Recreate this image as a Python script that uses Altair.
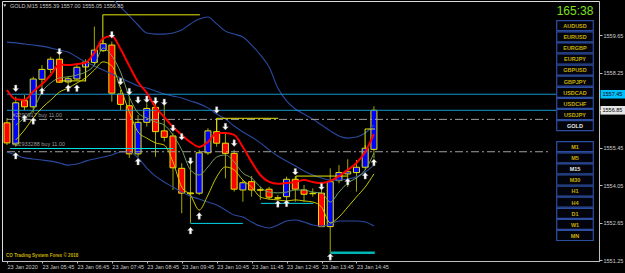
import json
import altair as alt
import pandas as pd

# ---------------- data ----------------
# M15 candles, bar 0 = 23 Jan 04:45 ... bar 42 = 15:15
opens = [1556.38, 1555.59, 1557.21, 1556.98, 1558.01, 1558.38, 1558.76, 1557.91, 1558.02, 1558.47,
         1558.64, 1559.08, 1559.29, 1557.46, 1557.02, 1555.22, 1556.40, 1556.96, 1556.08, 1555.89,
         1554.68, 1553.76, 1553.75, 1555.26, 1556.05, 1555.62, 1555.24, 1553.87, 1554.18, 1553.88,
         1553.90, 1553.58, 1553.62, 1554.27, 1553.87, 1553.75, 1553.75, 1552.50, 1554.22, 1554.47,
         1554.52, 1554.72, 1555.39]
highs = [1556.56, 1557.36, 1557.42, 1558.11, 1558.54, 1558.85, 1558.92, 1558.13, 1558.54, 1558.76,
         1559.98, 1559.55, 1559.42, 1557.61, 1557.36, 1556.67, 1557.11, 1557.17, 1557.05, 1555.99,
         1554.87, 1554.88, 1555.37, 1556.18, 1556.55, 1555.99, 1555.37, 1554.24, 1554.39, 1553.99,
         1553.99, 1553.68, 1554.37, 1554.39, 1554.06, 1553.93, 1554.12, 1554.68, 1554.80, 1555.02,
         1554.99, 1555.55, 1557.00]
lows = [1555.55, 1555.49, 1556.86, 1556.76, 1557.68, 1558.24, 1557.87, 1557.80, 1557.98, 1557.92,
        1558.54, 1559.03, 1557.17, 1556.86, 1555.07, 1555.11, 1556.24, 1555.11, 1555.68, 1553.87,
        1553.00, 1552.64, 1553.68, 1555.18, 1555.49, 1554.31, 1553.81, 1553.43, 1553.62, 1553.50,
        1553.50, 1553.50, 1553.50, 1553.43, 1553.43, 1553.62, 1552.48, 1551.52, 1554.12, 1553.99,
        1553.81, 1554.62, 1555.05]
closes = [1555.63, 1557.13, 1556.98, 1558.02, 1558.38, 1558.76, 1557.90, 1558.03, 1558.46, 1558.66,
          1559.10, 1559.34, 1557.49, 1557.07, 1555.22, 1556.40, 1556.92, 1556.05, 1555.84, 1554.70,
          1553.75, 1553.73, 1555.26, 1556.08, 1555.62, 1555.24, 1553.90, 1554.14, 1553.87, 1553.86,
          1553.60, 1553.56, 1554.27, 1553.90, 1553.71, 1553.73, 1552.50, 1554.18, 1554.52, 1554.55,
          1554.72, 1555.43, 1556.85]

red_ma = [1557.61, 1557.26, 1557.24, 1557.55, 1557.83, 1558.17, 1558.57, 1558.54, 1558.58, 1558.63,
          1559.00, 1559.54, 1559.63, 1559.14, 1558.51, 1557.91, 1557.50, 1556.97, 1556.60, 1556.23,
          1555.93, 1555.66, 1555.48, 1555.66, 1556.00, 1556.00, 1555.93, 1555.48, 1554.92, 1554.43,
          1554.17, 1554.10, 1554.13, 1554.17, 1554.24, 1554.17, 1554.13, 1554.21, 1554.39, 1554.62,
          1554.88, 1555.29, 1555.96]
green_ma = [1556.30, 1556.56, 1556.86, 1557.53, 1557.87, 1558.06, 1558.10, 1558.17, 1558.28, 1558.54,
            1559.18, 1558.88, 1558.28, 1557.35, 1556.75, 1556.56, 1556.41, 1556.30, 1555.93, 1555.37,
            1554.62, 1554.43, 1554.73, 1555.10, 1555.18, 1554.92, 1554.50, 1554.32, 1553.98, 1553.79,
            1553.76, 1553.79, 1553.87, 1553.87, 1553.79, 1553.76, 1553.42, 1553.79, 1554.13, 1554.32,
            1554.62, 1555.25]
yellow_ma = [1555.74, 1556.11, 1556.56, 1556.94, 1557.23, 1557.53, 1557.68, 1557.87, 1558.06, 1558.36,
             1558.66, 1558.51, 1557.68, 1556.79, 1556.04, 1555.81, 1555.63, 1555.55, 1554.92, 1553.98,
             1553.68, 1553.12, 1553.68, 1554.36, 1554.73, 1554.62, 1554.24, 1553.98, 1553.61, 1553.53,
             1553.50, 1553.46, 1553.50, 1553.46, 1553.42, 1553.23, 1552.64, 1552.86, 1553.23, 1553.61,
             1553.98, 1554.47]
upper_band = [1561.05, 1560.71, 1560.38, 1560.04, 1559.74, 1559.70, 1559.70, 1559.74, 1559.85, 1560.08,
              1560.26, 1560.34, 1560.08, 1559.81, 1559.70, 1559.59, 1559.29, 1558.92, 1558.47, 1557.68,
              1557.20, 1556.90, 1556.71, 1556.52, 1556.30, 1556.08, 1555.89, 1555.81, 1555.85, 1556.00,
              1556.30]
middle_band = [1559.40, 1559.37, 1559.33, 1559.29, 1559.25, 1559.18, 1559.10, 1559.03, 1558.84, 1558.66,
               1558.51, 1558.36, 1558.21, 1558.06, 1557.91, 1557.76, 1557.68, 1557.57, 1557.46, 1557.38,
               1557.31, 1557.20, 1557.09, 1556.94, 1556.71, 1556.52, 1556.26, 1556.04, 1555.85, 1555.63,
               1555.37, 1555.14, 1554.95, 1554.77, 1554.58, 1554.43, 1554.32, 1554.24, 1554.24, 1554.28,
               1554.36, 1554.54, 1554.80]
lower_band = [1555.29, 1555.18, 1555.07, 1555.03, 1554.99, 1554.95, 1554.88, 1554.80, 1554.84, 1554.95,
              1555.03, 1555.10, 1555.18, 1555.29, 1555.29, 1555.07, 1554.69, 1554.39, 1554.17, 1553.98,
              1553.79, 1553.64, 1553.53, 1553.42, 1553.31, 1553.12, 1552.93, 1552.86, 1552.67, 1552.52,
              1552.45, 1552.56, 1552.71, 1552.75, 1552.67, 1552.56, 1552.52, 1552.60, 1552.71, 1552.71,
              1552.71, 1552.67, 1552.52]
green_start, yellow_start, upper_start = 1, 1, 12

hline_levels = [1557.45, 1556.85]
order_levels = [1556.51, 1555.30]
order_labels = ["#2290917 buy 11.00", "#22933288 buy 11.00"]
order_label_levels = [1556.56, 1555.47]
buy_line = [(0.36, 19.04, 1555.42)]
yellow_steps = [
    [(5.99, 1557.95), (8.99, 1557.95), (8.99, 1558.67)],
    [(10.97, 1559.37), (10.97, 1560.42), (22.08, 1560.42)],
    [(24.0, 1556.05), (24.0, 1556.55), (31.05, 1556.55)],
    [(33.08, 1554.27), (33.08, 1554.39), (39.0, 1554.39)],
    [(40.99, 1555.43), (40.99, 1556.15), (42.12, 1556.15)],
]
cyan_segments = [(21.0, 27.0, 1552.62), (29.06, 35.06, 1553.37)]
teal_segments = [(37.05, 42.1, 1551.52)]

down_arrows = [(1, 1557.67), (6, 1559.04), (12, 1559.67), (13, 1557.92), (14, 1557.55), (15, 1557.23),
               (16, 1557.26), (17, 1557.20), (18, 1557.15), (19, 1556.18), (20, 1555.86), (21, 1554.95),
               (24, 1556.86), (25, 1556.24), (26, 1555.62), (33, 1554.55), (36, 1553.99)]
up_arrows = [(1, 1555.15), (2, 1556.55), (3, 1556.45), (4, 1557.57), (7, 1557.68), (8, 1557.68),
             (15, 1554.93), (21, 1552.35), (22, 1552.90), (31, 1553.35), (32, 1553.37), (37, 1551.37),
             (39, 1554.18), (41, 1554.40), (42, 1554.90)]

x_labels = ["23 Jan 2020", "23 Jan 05:45", "23 Jan 06:45", "23 Jan 07:45", "23 Jan 08:45",
            "23 Jan 09:45", "23 Jan 10:45", "23 Jan 11:45", "23 Jan 12:45", "23 Jan 13:45",
            "23 Jan 14:45"]
price_ticks = [1551.25, 1551.95, 1552.65, 1553.35, 1554.05, 1554.75, 1555.45, 1556.15, 1556.85,
               1557.55, 1558.25, 1558.95, 1559.65, 1560.35]

symbols = ["AUDUSD", "EURUSD", "EURGBP", "EURJPY", "GBPUSD", "GBPJPY", "USDCAD", "USDCHF", "USDJPY", "GOLD"]
timeframes = ["M1", "M5", "M15", "M30", "H1", "H4", "D1", "W1", "MN"]
active_buttons = ["GOLD", "M15"]

title_text = "GOLD,M15  1555.39 1557.00 1555.05 1556.85"
clock_text = "165:38"
footer_text = "CO Trading System Forex \u00a9 2018"
price_boxes = [(1557.45, "#00c0ff"), (1556.85, "#e6e6e6")]

# ---------------- chart ----------------
W, H = 597, 260
FONT = "Liberation Sans"
xs = alt.Scale(domain=[0, 67.19], nice=False, zero=False)
ys = alt.Scale(domain=[1551.214, 1560.937], nice=False, zero=False)

label_expr = json.dumps(x_labels) + "[round(datum.value / 4)]"
x_axis = alt.Axis(values=list(range(0, 41, 4)), labelExpr=label_expr, labelAlign="left",
                  labelBaseline="top", labelPadding=1, tickSize=2, labelFontSize=5.5,
                  labelColor="#c8c8c8", tickColor="#c0c0c0", domainColor="#c0c0c0", grid=False,
                  title=None, labelOverlap=False, labelFlush=False, labelBound=False, labelFont=FONT)
y_axis = alt.Axis(orient="right", values=price_ticks, format=".2f", tickSize=3, labelPadding=1,
                  labelFontSize=5.5, labelColor="#d0d0d0", tickColor="#c0c0c0", domainColor="#c0c0c0",
                  grid=False, title=None, labelOverlap=False, labelFlush=False, labelBound=False,
                  labelBaseline="middle", labelFont=FONT)


def X(f, **kw):
    return alt.X(f, type="quantitative", scale=xs, **kw)


def Y(f, **kw):
    return alt.Y(f, type="quantitative", scale=ys, **kw)


cdf = pd.DataFrame({"bar": list(range(len(opens))), "open": opens, "high": highs,
                    "low": lows, "close": closes})
cdf["dir"] = ["up" if c > o else "down" for o, c in zip(opens, closes)]

wicks = alt.Chart(cdf).mark_rule(color="#a8a800", strokeWidth=1, clip=True).encode(
    x=X("bar", axis=x_axis), y=Y("low", axis=y_axis), y2="high")
bodies = alt.Chart(cdf).mark_bar(size=6, stroke="#e6e600", strokeWidth=1, clip=True).encode(
    x=X("bar"), y=Y("open"), y2="close",
    fill=alt.Fill("dir:N", scale=alt.Scale(domain=["up", "down"], range=["#0000ff", "#ff0000"]),
                  legend=None))


def line_layer(vals, start, color, width):
    df = pd.DataFrame({"bar": [start + i for i in range(len(vals))], "price": vals})
    return alt.Chart(df).mark_line(color=color, strokeWidth=width, clip=True,
                                   interpolate="monotone").encode(x=X("bar"), y=Y("price"))


def seg_layer(rows, color, width, dash=None):
    df = pd.DataFrame(rows, columns=["x1", "x2", "y1", "y2"])
    kw = dict(color=color, strokeWidth=width, clip=True)
    if dash:
        kw["strokeDash"] = dash
    return alt.Chart(df).mark_rule(**kw).encode(x=X("x1"), x2="x2", y=Y("y1"), y2="y2")


bands = [line_layer(upper_band, upper_start, "#2a4aa0", 1.1),
         line_layer(middle_band, 0, "#2a4aa0", 1.1),
         line_layer(lower_band, 0, "#2a4aa0", 1.1)]

step_rows = []
for poly in yellow_steps:
    for (a, b) in zip(poly[:-1], poly[1:]):
        step_rows.append((a[0], b[0], a[1], b[1]))

hl = seg_layer([(0, 67.19, v, v) for v in hline_levels], "#1596d0", 1)
dashl = seg_layer([(0, 62.2, v, v) for v in order_levels], "#a0a0a0", 1, [8, 3, 2, 3])
buyl = seg_layer([(a, b, v, v) for a, b, v in buy_line], "#00e5e5", 1)
cyanl = seg_layer([(a, b, v, v) for a, b, v in cyan_segments], "#00d8e8", 1)
teall = seg_layer([(a, b, v, v) for a, b, v in teal_segments], "#00b4b4", 2.5)
steps = seg_layer(step_rows, "#e6e600", 1)

lab_df = pd.DataFrame({"bar": [0.6] * len(order_labels), "price": order_label_levels, "t": order_labels})
labs = alt.Chart(lab_df).mark_text(align="left", baseline="bottom", fontSize=5.5, color="#9a9a9a",
                                   font=FONT).encode(x=X("bar"), y=Y("price"), text="t:N")

UP = "M0,-1L0.9,-0.05L0.35,-0.05L0.35,1L-0.35,1L-0.35,-0.05L-0.9,-0.05Z"
DOWN = "M0,1L0.9,0.05L0.35,0.05L0.35,-1L-0.35,-1L-0.35,0.05L-0.9,0.05Z"
dn_df = pd.DataFrame(down_arrows, columns=["bar", "price"])
up_df = pd.DataFrame(up_arrows, columns=["bar", "price"])
dn = alt.Chart(dn_df).mark_point(shape=DOWN, filled=True, fill="#ffffff", stroke="#8a8a8a",
                                 strokeWidth=0.4, size=44, opacity=1).encode(x=X("bar"), y=Y("price"))
up = alt.Chart(up_df).mark_point(shape=UP, filled=True, fill="#ffffff", stroke="#8a8a8a",
                                 strokeWidth=0.4, size=44, opacity=1).encode(x=X("bar"), y=Y("price"))

# buttons (panel in pixel space of the plot area)
brows = []
for k, s in enumerate(symbols):
    top = 19.7 + 11.1 * k
    brows.append((s, top))
for k, s in enumerate(timeframes):
    top = 140.7 + 11.1 * k
    brows.append((s, top))
bdf = pd.DataFrame(brows, columns=["t", "y1"])
bdf["y2"] = bdf["y1"] + 10
bdf["yc"] = bdf["y1"] + 5.3
bdf["x1"] = 554.7
bdf["x2"] = 591.3
bdf["xc"] = 573.0
bdf["tc"] = ["#e8e8e8" if t in active_buttons else "#c8b000" for t in bdf["t"]]
brect = alt.Chart(bdf).mark_rect(fill="#03030c", stroke="#2d4ea0", strokeWidth=1.2).encode(
    x=alt.X("x1:Q", scale=None), x2="x2:Q", y=alt.Y("y1:Q", scale=None), y2="y2:Q")
btext = alt.Chart(bdf).mark_text(fontSize=5.5, fontWeight="bold", font=FONT, baseline="middle").encode(
    x=alt.X("xc:Q", scale=None), y=alt.Y("yc:Q", scale=None), text="t:N",
    color=alt.Color("tc:N", scale=None))

clock = alt.Chart(pd.DataFrame({"t": [clock_text]})).mark_text(
    fontSize=12, color="#7ee01c", font=FONT, baseline="middle", align="center").encode(
    x=alt.value(573), y=alt.value(10), text="t:N")
title = alt.Chart(pd.DataFrame({"t": [title_text]})).mark_text(
    fontSize=5.5, color="#c8c8c8", font=FONT, baseline="middle", align="left").encode(
    x=alt.value(8), y=alt.value(4.8), text="t:N")
tri = alt.Chart(pd.DataFrame({"t": [0]})).mark_point(
    shape="triangle-down", filled=True, fill="#c8c8c8", size=10, opacity=1).encode(
    x=alt.value(2.8), y=alt.value(4.6))
footer = alt.Chart(pd.DataFrame({"t": [footer_text]})).mark_text(
    fontSize=4.6, fontWeight="bold", color="#c8b000", font=FONT, baseline="middle", align="left").encode(
    x=alt.value(4), y=alt.value(254.7), text="t:N")

pb = pd.DataFrame(price_boxes, columns=["price", "bg"])
pb["lo"] = pb["price"] - 0.16
pb["hi"] = pb["price"] + 0.16
pb["x1"] = 598.5
pb["x2"] = 623.5
pb["xt"] = 600.5
pb["t"] = [f"{p:.2f}" for p in pb["price"]]
pbox = alt.Chart(pb).mark_rect(clip=False).encode(
    x=alt.X("x1:Q", scale=None), x2="x2:Q", y=Y("lo"), y2="hi",
    fill=alt.Fill("bg:N", scale=None))
ptext = alt.Chart(pb).mark_text(fontSize=5.5, color="#000000", font=FONT, align="left",
                                baseline="middle").encode(
    x=alt.X("xt:Q", scale=None), y=Y("price"), text="t:N")

chart = alt.layer(
    wicks, bodies, *bands, dashl, buyl, labs, hl, cyanl, teall, steps,
    line_layer(yellow_ma, yellow_start, "#c8c800", 1),
    line_layer(green_ma, green_start, "#74a064", 1),
    line_layer(red_ma, 0, "#ff0000", 2),
    dn, up, brect, btext, clock, title, tri, footer, pbox, ptext,
).properties(
    width=W, height=H, background="#000000",
    padding={"left": 2, "top": 1, "right": 26, "bottom": 12},
    autosize=alt.AutoSizeParams(type="none"),
).configure_view(stroke="#c0c0c0", strokeWidth=1, fill="#000000").configure(font=FONT)

chart.save("out.html", embed_options={"renderer": "svg", "actions": False})
